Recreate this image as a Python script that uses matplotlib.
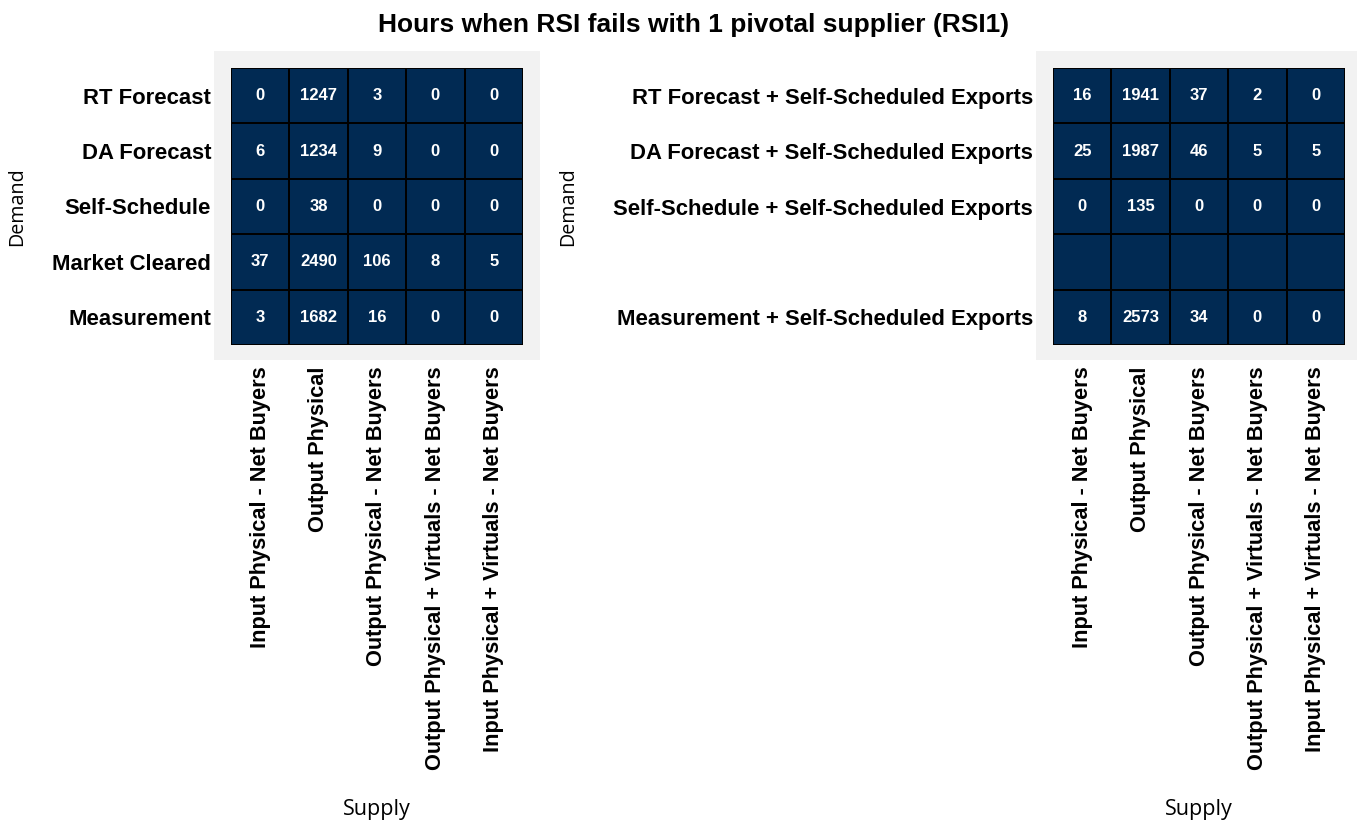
import numpy as np
import matplotlib.pyplot as plt
from matplotlib.colors import ListedColormap
from matplotlib.patches import Rectangle

# data
supply = ["Input Physical - Net Buyers", "Output Physical", "Output Physical - Net Buyers",
          "Output Physical + Virtuals - Net Buyers", "Input Physical + Virtuals - Net Buyers"]
demand_left = ["RT Forecast", "DA Forecast", "Self-Schedule", "Market Cleared", "Measurement"]
demand_right = ["RT Forecast + Self-Scheduled Exports", "DA Forecast + Self-Scheduled Exports",
                "Self-Schedule + Self-Scheduled Exports", "", "Measurement + Self-Scheduled Exports"]
hours_left = [[0, 1247, 3, 0, 0],
              [6, 1234, 9, 0, 0],
              [0, 38, 0, 0, 0],
              [37, 2490, 106, 8, 5],
              [3, 1682, 16, 0, 0]]
hours_right = [[16, 1941, 37, 2, 0],
               [25, 1987, 46, 5, 5],
               [0, 135, 0, 0, 0],
               [np.nan] * 5,
               [8, 2573, 34, 0, 0]]

NAVY = "#012a53"
GREY = "#f2f2f2"

fig = plt.figure(figsize=(13.57, 8.23), dpi=100)
W, H = 1357, 823


def px_rect(x0, y0, x1, y1):
    # pixel box (top-left origin) -> figure fraction [l, b, w, h]
    return [x0 / W, 1 - y1 / H, (x1 - x0) / W, (y1 - y0) / H]


def draw_heat(ax, vals, rows):
    vals = np.array(vals, dtype=float)
    filled = np.where(np.isnan(vals), 0, vals)
    cmap = ListedColormap([NAVY])
    ax.pcolormesh(filled, cmap=cmap, edgecolors="black", linewidth=1.4)
    for i in range(vals.shape[0]):
        for j in range(vals.shape[1]):
            if not np.isnan(vals[i, j]):
                ax.text(j + 0.5, i + 0.5, f"{int(vals[i, j])}", ha="center", va="center",
                        color="white", fontsize=12, fontweight="bold", family="Liberation Sans")
    ax.set_xlim(0, vals.shape[1])
    ax.set_ylim(vals.shape[0], 0)
    ax.set_xticks(np.arange(len(supply)) + 0.5)
    ax.set_xticklabels(supply, rotation=90, fontsize=15.7, fontweight="bold", family="Liberation Sans")
    ax.set_yticks(np.arange(len(rows)) + 0.5)
    ax.set_yticklabels(rows, fontsize=15.9, fontweight="bold", family="Liberation Sans")
    ax.tick_params(axis="y", length=0, pad=14.4)
    ax.tick_params(axis="x", length=0, pad=15.5)
    for s in ax.spines.values():
        s.set_visible(False)
    ax.set_xlabel("Supply", fontsize=15.5, family="Open Sans")
    ax.set_ylabel("Demand", fontsize=14.2, family="Open Sans")
    ax.xaxis.label.set_va("center")


for box in [(214, 51, 540, 360), (1036, 51, 1357, 360)]:
    l, b, w, h = px_rect(*box)
    fig.patches.append(Rectangle((l, b), w, h, transform=fig.transFigure,
                                 facecolor=GREY, edgecolor="none", zorder=-1))

ax1 = fig.add_axes(px_rect(231, 68, 523, 345))
ax2 = fig.add_axes(px_rect(1053, 68, 1345, 345))
draw_heat(ax1, hours_left, demand_left)
draw_heat(ax2, hours_right, demand_right)

ax1.yaxis.set_label_coords((27 - 231) / 292, 0.5)
ax2.yaxis.set_label_coords((578 - 1053) / 292, 0.5)
ax1.xaxis.set_label_coords(0.5, (345 - 809) / 277)
ax2.xaxis.set_label_coords(0.5, (345 - 809) / 277)

fig.suptitle("Hours when RSI fails with 1 pivotal supplier (RSI1)", x=694 / W, y=1 - 25 / H,
             va="center", fontsize=19, fontweight="bold", family="Liberation Sans")

fig.savefig("out.png", dpi=100)
